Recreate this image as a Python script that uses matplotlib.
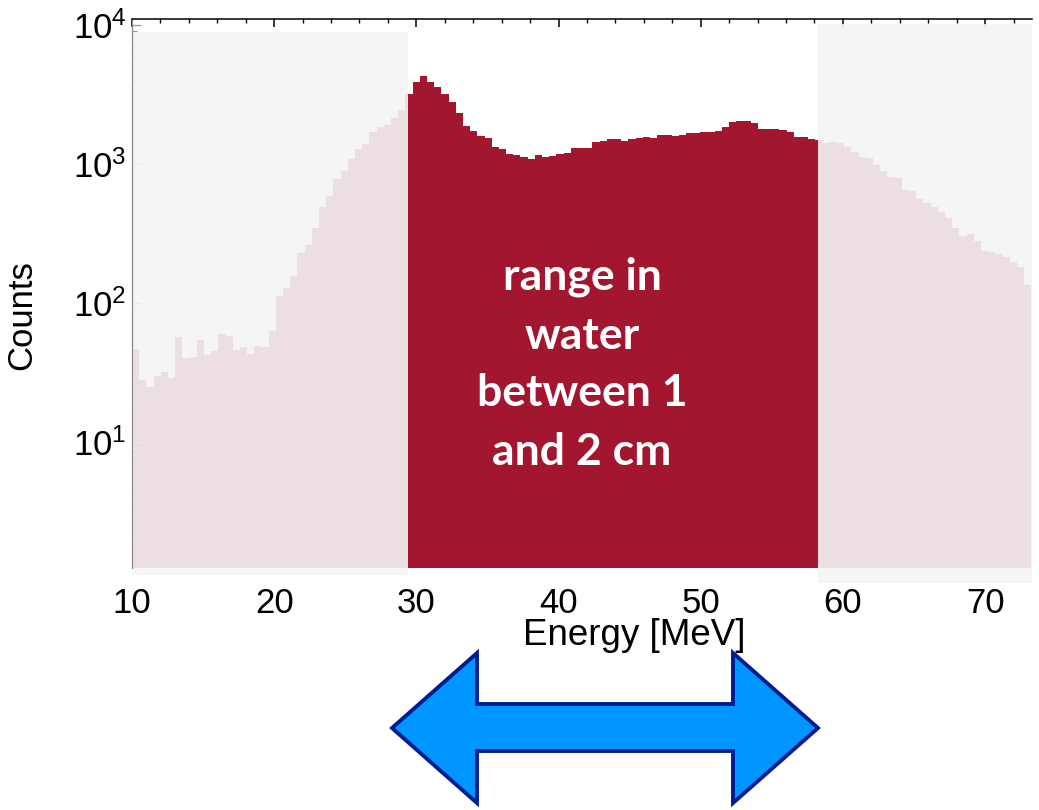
import numpy as np
import matplotlib
matplotlib.use("Agg")
import matplotlib.pyplot as plt
from matplotlib.patches import Rectangle, Polygon
from matplotlib.ticker import MultipleLocator, LogLocator, NullFormatter
import matplotlib.transforms as mtransforms

plt.rcParams["font.family"] = ["Liberation Sans", "DejaVu Sans"]
plt.rcParams["mathtext.fontset"] = "custom"
plt.rcParams["mathtext.rm"] = "Liberation Sans"
plt.rcParams["mathtext.it"] = "Liberation Sans:italic"
plt.rcParams["mathtext.default"] = "regular"

# Energy spectrum (counts per bin)
bin_start = 10.0      # MeV
bin_width = 0.506     # MeV
counts = [
    47, 28, 25, 30, 32, 29, 57, 40, 41, 54, 42, 45, 60, 58, 46, 48, 43, 49, 48, 63,
    113, 128, 156, 228, 261, 345, 491, 589, 780, 886, 1092, 1276, 1393, 1708, 1837,
    1899, 2132, 2446, 3172, 3870,
    4318, 3870, 3562, 3172, 2807, 2315, 1877, 1728, 1598, 1539, 1332, 1276, 1180,
    1155, 1128, 1092, 1155, 1117, 1142, 1180,
    1194, 1297, 1297, 1304, 1440, 1457, 1501, 1513, 1464, 1513, 1539, 1564, 1531,
    1603, 1624, 1598, 1616, 1658, 1663, 1685,
    1708, 1728, 1846, 1995, 2022, 2022, 1972, 1776, 1776, 1776, 1757, 1691, 1557,
    1557, 1513, 1476, 1416, 1447, 1416, 1326,
    1220, 1123, 1105, 983, 890, 806, 789, 650, 643, 560, 527, 491, 452, 409, 346,
    303, 312, 279, 237, 233, 225, 215, 197, 182, 135,
]

# Selected energy window (range in water between 1 and 2 cm)
window_lo = 29.43
window_hi = 58.26

x_ticks = [10, 20, 30, 40, 50, 60, 70]
x_range = (10.0, 73.3)
y_range = (1.24, 11040)
note_lines = ["range in", "water", "between 1", "and 2 cm"]

RED = "#a31630"
SHADE = "#f4f4f4"

W, H = 1039, 810
fig = plt.figure(figsize=(W / 100, H / 100), dpi=100)
ax = fig.add_axes([132 / W, 1 - 568 / H, 900 / W, 549 / H])

edges = bin_start + bin_width * np.arange(len(counts) + 1)
ax.stairs(counts, edges, fill=True, color=RED, baseline=0.1, zorder=1)

ax.set_yscale("log")
ax.set_xlim(*x_range)
ax.set_ylim(*y_range)

# shaded (out-of-window) parts of the spectrum
blend = mtransforms.blended_transform_factory(ax.transData, ax.transAxes)
ax.add_patch(Rectangle((x_range[0], -0.0128), window_lo - x_range[0], 0.976 + 0.0128,
                       transform=blend, facecolor=SHADE, edgecolor="none",
                       alpha=0.91, zorder=2, clip_on=False))
ax.add_patch(Rectangle((window_hi, -0.0273), x_range[1] - window_hi, 0.991 + 0.0273,
                       transform=blend, facecolor=SHADE, edgecolor="none",
                       alpha=0.91, zorder=2, clip_on=False))

# axes styling
for s in ("right", "bottom"):
    ax.spines[s].set_visible(False)
ax.spines["top"].set_color("black")
ax.spines["top"].set_linewidth(1.1)
ax.spines["left"].set_color("#8a8a8a")
ax.spines["left"].set_linewidth(0.9)
ax.spines["top"].set_zorder(3)
ax.spines["left"].set_zorder(3)

ax.set_xticks(x_ticks)
ax.xaxis.set_minor_locator(MultipleLocator(2))
ax.tick_params(axis="x", which="both", bottom=False, top=True, labelbottom=True,
               labeltop=False, direction="in", colors="black", labelsize=25, pad=14)
ax.tick_params(axis="x", which="major", length=5.5, width=1.1)
ax.tick_params(axis="x", which="minor", length=3.2, width=1.0)

ax.yaxis.set_major_locator(LogLocator(base=10))
ax.yaxis.set_minor_locator(LogLocator(base=10, subs=np.arange(2, 10)))
ax.yaxis.set_minor_formatter(NullFormatter())
ax.tick_params(axis="y", which="both", left=True, right=False, direction="in",
               color="#9a9a9a", labelcolor="black", labelsize=25, pad=4)
ax.tick_params(axis="y", which="major", length=6.5, width=0.9)
ax.tick_params(axis="y", which="minor", length=3.5, width=0.8)

ax.set_xlabel("Energy [MeV]", fontsize=26.5)
ax.xaxis.set_label_coords(0.558, -0.091)
ax.set_ylabel("Counts", fontsize=25)
ax.yaxis.set_label_coords(-0.104, 0.461)

# annotation inside the window
line_y = [277, 336, 393, 452]
for txt, yp in zip(note_lines, line_y):
    fig.text(582 / W, 1 - yp / H, txt, color="white", fontsize=32,
             fontweight="bold", family=["Lato", "DejaVu Sans"],
             ha="center", va="center", zorder=5)

# double-headed arrow below the axis
arrow_px = [(392, 728), (477, 653), (477, 704), (733, 704), (733, 653),
            (818, 728), (733, 803), (733, 751), (477, 751), (477, 803)]
arrow = Polygon([(x / W, 1 - y / H) for x, y in arrow_px], closed=True,
                transform=fig.transFigure, facecolor="#0096ff",
                edgecolor="#001c94", linewidth=2.8, joinstyle="miter")
fig.patches.append(arrow)

fig.savefig("out.png", dpi=100)
